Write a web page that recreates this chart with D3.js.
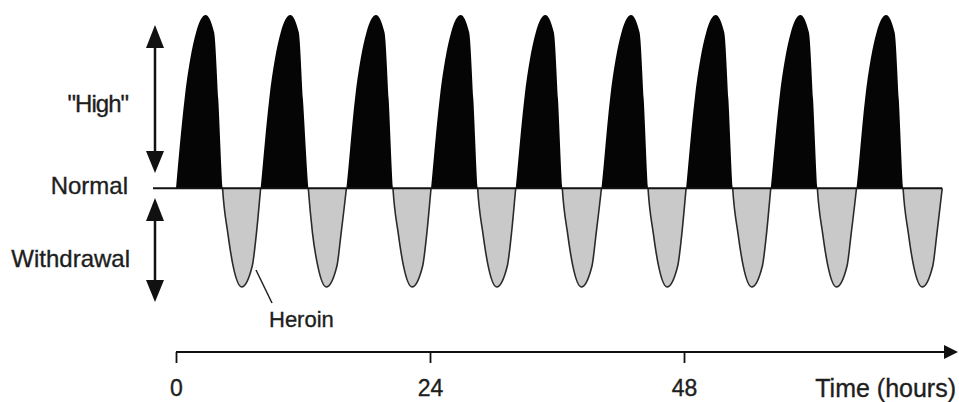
<!DOCTYPE html>
<html>
<head>
<meta charset="utf-8">
<script src="https://cdn.jsdelivr.net/npm/d3@7"></script>
<style>
  body { margin: 0; background: #fff; }
  text { font-family: "Liberation Sans", Arial, sans-serif; fill: #1e1e1e; stroke: #1e1e1e; stroke-width: 0.35px; }
</style>
</head>
<body>
<div id="chart"></div>
<script>

// time points (hours), one row per dose
var doseHours = [
   0.0,  0.8,  1.9,  2.8,  3.6,  4.0,  4.4,  4.9,  5.4,  6.2,  7.2,  7.6,
   8.0,  8.8,  9.9, 10.8, 11.6, 12.0, 12.5, 12.9, 13.4, 14.2, 15.2, 15.6,
  16.1, 16.9, 18.0, 18.9, 19.7, 20.1, 20.5, 21.0, 21.5, 22.3, 23.3, 23.7,
  24.1, 24.9, 26.0, 26.9, 27.7, 28.1, 28.5, 29.0, 29.5, 30.3, 31.3, 31.7,
  32.1, 32.9, 34.0, 34.9, 35.7, 36.1, 36.5, 37.0, 37.5, 38.3, 39.3, 39.7,
  40.2, 41.0, 42.1, 43.0, 43.8, 44.2, 44.6, 45.1, 45.6, 46.4, 47.4, 47.8,
  48.2, 49.0, 50.1, 51.0, 51.8, 52.2, 52.6, 53.1, 53.6, 54.4, 55.4, 55.8,
  56.2, 57.0, 58.1, 59.0, 59.8, 60.2, 60.6, 61.1, 61.6, 62.4, 63.4, 63.8,
  64.3, 65.1, 66.2, 67.1, 67.9, 68.3, 68.7, 69.2, 69.7, 70.5, 71.5, 71.9,
  72.4
];

// mood level at those points (100 = top of the "high", 0 = normal)
var moodLevel = [
  0, 51, 90, 100, 90, 51, 0, -26, -45, -57, -45, -26,
  0, 51, 90, 100, 90, 51, 0, -26, -45, -57, -45, -26,
  0, 51, 90, 100, 90, 51, 0, -26, -45, -57, -45, -26,
  0, 51, 90, 100, 90, 51, 0, -26, -45, -57, -45, -26,
  0, 51, 90, 100, 90, 51, 0, -26, -45, -57, -45, -26,
  0, 51, 90, 100, 90, 51, 0, -26, -45, -57, -45, -26,
  0, 51, 90, 100, 90, 51, 0, -26, -45, -57, -45, -26,
  0, 51, 90, 100, 90, 51, 0, -26, -45, -57, -45, -26,
  0, 51, 90, 100, 90, 51, 0, -26, -45, -57, -45, -26,
  0
];

var tickHours = [0, 24, 48];
var stateLabels = ["\"High\"", "Normal", "Withdrawal"];

var svgWidth = 959;
var svgHeight = 402;

var svg = d3.select("#chart")
  .append("svg")
  .attr("width", svgWidth)
  .attr("height", svgHeight);

// scales
var xScale = d3.scaleLinear().domain([0, 72]).range([176, 938]);
var yScale = d3.scaleLinear().domain([-57, 100]).range([287, 15]);

var points = doseHours.map(function(h, i) { return { h: h, v: moodLevel[i] }; });
var base = yScale(0);

var area = d3.area()
  .x(d => xScale(d.h))
  .y0(base)
  .y1(d => yScale(d.v))
  .curve(d3.curveMonotoneX);

var line = d3.line()
  .x(d => xScale(d.h))
  .y(d => yScale(d.v))
  .curve(d3.curveMonotoneX);

// clip above / below the normal line
var defs = svg.append("defs");
defs.append("clipPath").attr("id", "above")
  .append("rect").attr("x", 0).attr("y", 0).attr("width", svgWidth).attr("height", base);
defs.append("clipPath").attr("id", "below")
  .append("rect").attr("x", 0).attr("y", base).attr("width", svgWidth).attr("height", svgHeight - base);

// "high" humps
svg.append("path")
  .datum(points)
  .attr("d", area)
  .attr("fill", "#050505")
  .attr("clip-path", "url(#above)");

// withdrawal dips
svg.append("path")
  .datum(points)
  .attr("d", area)
  .attr("fill", "#c9c9c9")
  .attr("clip-path", "url(#below)");

svg.append("path")
  .datum(points)
  .attr("d", line)
  .attr("fill", "none")
  .attr("stroke", "#2a2a2a")
  .attr("stroke-width", 1.6)
  .attr("clip-path", "url(#below)");

// normal line
svg.append("line")
  .attr("x1", 153).attr("x2", xScale(72.4))
  .attr("y1", base).attr("y2", base)
  .attr("stroke", "#111")
  .attr("stroke-width", 2);

// double arrows on the left
function doubleArrow(top, bottom) {
  var g = svg.append("g");
  var ax = 155;
  g.append("line")
    .attr("x1", ax).attr("x2", ax)
    .attr("y1", top + 15).attr("y2", bottom - 15)
    .attr("stroke", "#111").attr("stroke-width", 2.5);
  g.append("path")
    .attr("d", `M${ax},${top} L${ax - 9},${top + 23} L${ax + 9},${top + 23} Z`)
    .attr("fill", "#111");
  g.append("path")
    .attr("d", `M${ax},${bottom} L${ax - 9},${bottom - 22} L${ax + 9},${bottom - 22} Z`)
    .attr("fill", "#111");
}
doubleArrow(25, 173);
doubleArrow(198, 302);

// state labels
var labelY = [112, 194, 267];
var labelX = [128, 128, 130];
svg.selectAll(".state")
  .data(stateLabels)
  .enter()
  .append("text")
  .attr("class", "state")
  .attr("x", (d, i) => labelX[i])
  .attr("y", (d, i) => labelY[i])
  .attr("text-anchor", "end")
  .attr("font-size", "24px")
  .attr("letter-spacing", (d, i) => i === 0 ? "-1px" : "0px")
  .text(d => d);

// heroin callout
svg.append("line")
  .attr("x1", 256).attr("y1", 270)
  .attr("x2", 272).attr("y2", 303)
  .attr("stroke", "#222").attr("stroke-width", 1.5);
svg.append("text")
  .attr("x", 269).attr("y", 327)
  .attr("font-size", "22px")
  .text("Heroin");

// time axis
var axisY = 352;
var xAxis = d3.axisBottom(xScale)
  .tickValues(tickHours)
  .tickSize(11)
  .tickPadding(17);

var axisG = svg.append("g")
  .attr("transform", `translate(0, ${axisY})`)
  .call(xAxis);
axisG.select(".domain").remove();
axisG.selectAll(".tick line").attr("stroke", "#111").attr("stroke-width", 1.8);
axisG.selectAll(".tick text")
  .attr("font-size", "23px")
  .attr("font-family", "Liberation Sans, Arial, sans-serif")
  .attr("fill", "#1e1e1e");

svg.append("line")
  .attr("x1", xScale(0)).attr("x2", 946)
  .attr("y1", axisY).attr("y2", axisY)
  .attr("stroke", "#111").attr("stroke-width", 2);
svg.append("path")
  .attr("d", `M944,${axisY - 7} L958,${axisY} L944,${axisY + 7} Z`)
  .attr("fill", "#111");

svg.append("text")
  .attr("x", 956).attr("y", 397)
  .attr("text-anchor", "end")
  .attr("font-size", "25px")
  .text("Time (hours)");

</script>
</body>
</html>
